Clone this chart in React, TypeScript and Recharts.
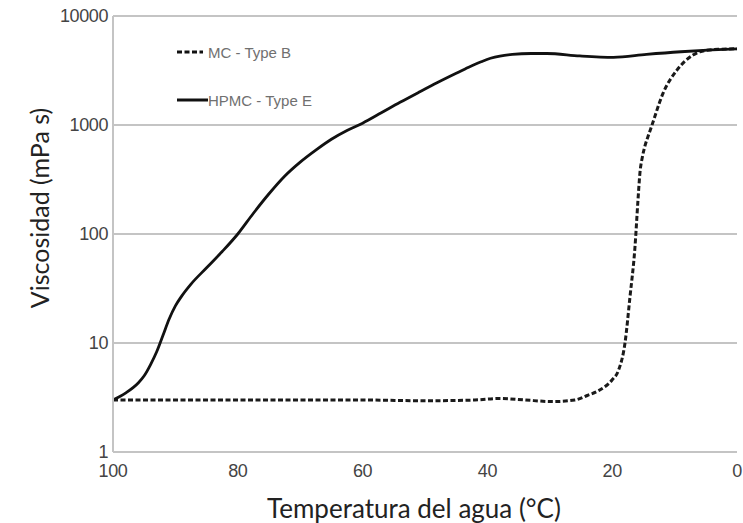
import React from 'react';
import { LineChart, Line, XAxis, YAxis, CartesianGrid } from 'recharts';

const xTicks = [100, 80, 60, 40, 20, 0];
const yTicks = [1, 10, 100, 1000, 10000];

const hpmcTemp = [100, 98, 96, 95, 94, 93, 92, 91, 90, 89, 87.5, 85, 82.5, 80, 77.5, 75, 72.5, 70, 67.5, 65, 62.5, 60, 57, 54, 51, 48, 45, 43, 41, 39.5, 38, 36, 33, 30.5, 25.2, 19.8, 14.5, 9, 4, 0];
const hpmcVisc = [3, 3.47, 4.27, 5.0, 6.3, 8.3, 11.7, 16.6, 21.9, 26.9, 34.7, 49, 69, 100, 155, 234, 339, 457, 589, 741, 891, 1040, 1294, 1614, 1995, 2455, 2985, 3388, 3802, 4093, 4295, 4446, 4529, 4530, 4300, 4180, 4450, 4700, 4880, 5000];

const mcTemp = [100, 90, 80, 70, 60, 50, 42, 38, 34, 29.5, 26, 24, 22, 20, 19, 17.95, 17.15, 16.35, 15.87, 15.54, 15.22, 14.74, 14.1, 13.62, 11.86, 9.6, 7.05, 5.93, 3, 0];
const mcVisc = [3, 3, 3, 3, 3, 2.95, 3.0, 3.1, 3.0, 2.9, 3.0, 3.3, 3.7, 4.6, 5.6, 10, 26.5, 76, 204, 372, 490, 646, 832, 1000, 1950, 3200, 4380, 4700, 4950, 5000];

const hpmcData = hpmcTemp.map((t, i) => ({ t, v: hpmcVisc[i] }));
const mcData = mcTemp.map((t, i) => ({ t, v: mcVisc[i] }));

const legendItems = [
  { label: 'MC - Type B', dash: '5 2.5', len: 26 },
  { label: 'HPMC - Type E', dash: undefined as string | undefined, len: 31 },
];

const tickStyle = { fill: '#444', fontSize: 18, fontFamily: 'Liberation Sans, Arial, sans-serif', letterSpacing: -0.4 };

export default function App() {
  return (
    <div style={{ position: 'absolute', left: 0, top: 0, width: 743, height: 523, background: '#fff', overflow: 'hidden' }}>
      <LineChart width={743} height={523} margin={{ top: 16, right: 6, bottom: 41, left: 53 }}>
        <CartesianGrid vertical={false} stroke="#c4c4c4" strokeWidth={2} />
        <XAxis
          dataKey="t"
          type="number"
          domain={[0, 100]}
          reversed
          ticks={xTicks}
          height={30}
          tickLine={false}
          tickSize={0}
          tickMargin={12}
          axisLine={{ stroke: '#c4c4c4', strokeWidth: 2 }}
          tick={tickStyle}
          allowDuplicatedCategory={false}
        />
        <YAxis
          dataKey="v"
          type="number"
          scale="log"
          domain={[1, 10000]}
          ticks={yTicks}
          width={60}
          allowDataOverflow
          tickLine={false}
          tickSize={0}
          tickMargin={5}
          axisLine={{ stroke: '#c4c4c4', strokeWidth: 2 }}
          tick={tickStyle}
        />
        <Line
          data={mcData}
          dataKey="v"
          type="monotone"
          stroke="#1a1a1a"
          strokeWidth={3}
          strokeDasharray="5 2.5"
          dot={false}
          isAnimationActive={false}
        />
        <Line
          data={hpmcData}
          dataKey="v"
          type="monotone"
          stroke="#111"
          strokeWidth={2.8}
          dot={false}
          isAnimationActive={false}
        />
      </LineChart>

      {legendItems.map((it, i) => (
        <div
          key={it.label}
          style={{
            position: 'absolute',
            left: 177,
            top: 43 + i * 48,
            height: 18,
            display: 'flex',
            alignItems: 'center',
            fontFamily: 'Liberation Sans, Arial, sans-serif',
            fontSize: 15,
            color: '#707070',
            whiteSpace: 'nowrap',
          }}
        >
          <svg width={it.len} height={6} style={{ marginRight: i === 0 ? 5 : 0 }}>
            <line x1={0} y1={3} x2={it.len} y2={3} stroke="#111" strokeWidth={3} strokeDasharray={it.dash} />
          </svg>
          <span>{it.label}</span>
        </div>
      ))}

      <div
        style={{
          position: 'absolute',
          left: 414,
          top: 508,
          transform: 'translate(-50%, -50%)',
          fontFamily: 'Lato, sans-serif',
          fontSize: 26,
          color: '#222',
          whiteSpace: 'nowrap',
        }}
      >
        Temperatura del agua (°C)
      </div>
      <div
        style={{
          position: 'absolute',
          left: 39,
          top: 208,
          transform: 'translate(-50%, -50%) rotate(-90deg)',
          fontFamily: 'Lato, sans-serif',
          fontSize: 25,
          color: '#222',
          whiteSpace: 'nowrap',
        }}
      >
        Viscosidad (mPa s)
      </div>
    </div>
  );
}
